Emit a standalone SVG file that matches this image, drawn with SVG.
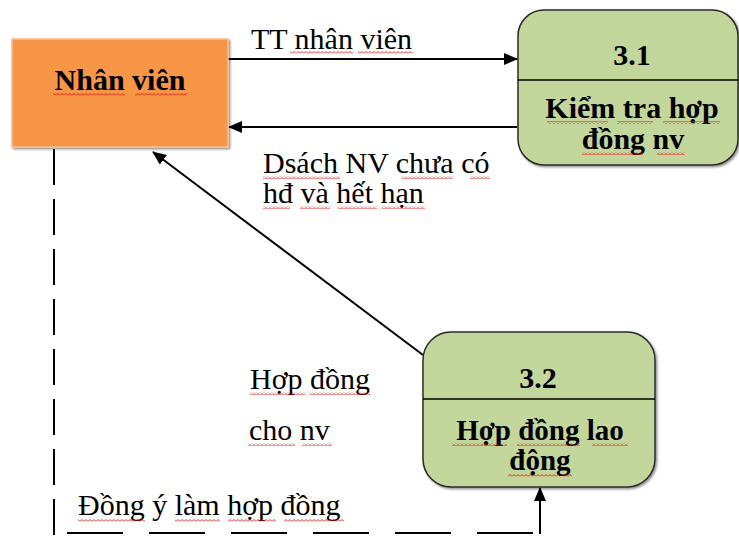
<svg xmlns="http://www.w3.org/2000/svg" width="739" height="536" viewBox="0 0 739 536">
  <style>
    .edge { stroke: #000; stroke-width: 2; fill: none; }
    .proc { fill: #C3D69B; stroke: #2b2b2b; stroke-width: 1.5; }
    .sq { fill: url(#squiggle); }
  </style>
  <defs>
    <marker id="arrow" viewBox="0 0 14 12" refX="13" refY="6" markerWidth="14" markerHeight="12" markerUnits="userSpaceOnUse" orient="auto">
      <path d="M0,0 L14,6 L0,12 Z" fill="#000"/>
    </marker>
    <pattern id="squiggle" width="4" height="3" patternUnits="userSpaceOnUse">
      <path d="M0,2.5 L2,0.5 L4,2.5" fill="none" stroke="#e01010" stroke-width="0.9"/>
    </pattern>
    <filter id="shadow" x="-5%" y="-5%" width="115%" height="115%">
      <feDropShadow dx="1.5" dy="1.5" stdDeviation="0.8" flood-color="#000" flood-opacity="0.45"/>
    </filter>
  </defs>

  <!-- connectors -->
  <g id="connectors">
    <line class="edge" x1="228" y1="59" x2="517" y2="59" marker-end="url(#arrow)"/>
    <line class="edge" x1="517" y1="127" x2="229" y2="127" marker-end="url(#arrow)"/>
    <line class="edge" x1="423" y1="355" x2="153" y2="152" marker-end="url(#arrow)"/>
    <line class="edge" x1="54" y1="149" x2="54" y2="536" stroke-dasharray="36 14"/>
    <line class="edge" x1="67" y1="533" x2="540" y2="533" stroke-dasharray="56 26"/>
    <line class="edge" x1="540" y1="534" x2="540" y2="488" marker-end="url(#arrow)"/>
  </g>

  <!-- external entity -->
  <g id="nhan-vien">
    <rect x="12" y="39" width="216" height="108" fill="#F79646" stroke="#FAC090" stroke-width="1.5" filter="url(#shadow)"/>
    <text x="120" y="90" text-anchor="middle" font-family="Liberation Serif" font-size="30" font-weight="bold" style="font-family: 'Liberation Serif', serif">Nhân viên</text>
    <rect class="sq" x="53" y="93" width="72" height="3"/>
    <rect class="sq" x="135" y="93" width="52" height="3"/>
  </g>

  <!-- process 3.1 -->
  <g id="p31">
    <rect class="proc" x="518" y="10" width="220" height="155" rx="26" filter="url(#shadow)"/>
    <line x1="518" y1="80" x2="738" y2="80" stroke="#000" stroke-width="1.5"/>
    <text x="632" y="65" text-anchor="middle" font-family="Liberation Serif" font-size="30" font-weight="bold" style="font-family: 'Liberation Serif', serif">3.1</text>
    <text x="632" y="118" text-anchor="middle" font-family="Liberation Serif" font-size="30" font-weight="bold" style="font-family: 'Liberation Serif', serif">Kiểm tra hợp</text>
    <text x="633" y="149" text-anchor="middle" font-family="Liberation Serif" font-size="30" font-weight="bold" style="font-family: 'Liberation Serif', serif">đồng nv</text>
    <rect class="sq" x="547" y="121" width="61" height="3"/>
    <rect class="sq" x="617" y="121" width="36" height="3"/>
    <rect class="sq" x="663" y="121" width="57" height="3"/>
    <rect class="sq" x="582" y="152" width="61" height="3"/>
    <rect class="sq" x="657" y="152" width="28" height="3"/>
  </g>

  <!-- process 3.2 -->
  <g id="p32">
    <rect class="proc" x="423" y="332" width="232" height="155" rx="28" filter="url(#shadow)"/>
    <line x1="423" y1="399" x2="655" y2="399" stroke="#000" stroke-width="1.5"/>
    <text x="538" y="388" text-anchor="middle" font-family="Liberation Serif" font-size="30" font-weight="bold" style="font-family: 'Liberation Serif', serif">3.2</text>
    <text x="540" y="440" text-anchor="middle" font-family="Liberation Serif" font-size="29" font-weight="bold" style="font-family: 'Liberation Serif', serif">Hợp đồng lao</text>
    <text x="540" y="470" text-anchor="middle" font-family="Liberation Serif" font-size="29" font-weight="bold" style="font-family: 'Liberation Serif', serif">động</text>
    <rect class="sq" x="452" y="443" width="55" height="3"/>
    <rect class="sq" x="517" y="443" width="63" height="3"/>
    <rect class="sq" x="592" y="443" width="36" height="3"/>
    <rect class="sq" x="508" y="474" width="64" height="3"/>
  </g>

  <!-- flow labels -->
  <g id="flow-labels">
    <text x="251" y="49" font-family="Liberation Serif" font-size="30" style="font-family: 'Liberation Serif', serif">TT nhân viên</text>
    <rect class="sq" x="290" y="51" width="63" height="3"/>
    <rect class="sq" x="358" y="51" width="55" height="3"/>

    <text x="263" y="173" font-family="Liberation Serif" font-size="30" style="font-family: 'Liberation Serif', serif">Dsách NV chưa có</text>
    <text x="263" y="203" font-family="Liberation Serif" font-size="30" style="font-family: 'Liberation Serif', serif">hđ và hết hạn</text>
    <rect class="sq" x="263" y="176" width="77" height="3"/>
    <rect class="sq" x="402" y="176" width="51" height="3"/>
    <rect class="sq" x="470" y="176" width="20" height="3"/>
    <rect class="sq" x="263" y="206" width="27" height="3"/>
    <rect class="sq" x="300" y="206" width="30" height="3"/>
    <rect class="sq" x="338" y="206" width="39" height="3"/>
    <rect class="sq" x="382" y="206" width="43" height="3"/>

    <text x="250" y="389" font-family="Liberation Serif" font-size="30" style="font-family: 'Liberation Serif', serif">Hợp đồng</text>
    <text x="249" y="440" font-family="Liberation Serif" font-size="30" style="font-family: 'Liberation Serif', serif">cho nv</text>
    <rect class="sq" x="250" y="392" width="55" height="3"/>
    <rect class="sq" x="310" y="392" width="60" height="3"/>
    <rect class="sq" x="248" y="443" width="47" height="3"/>
    <rect class="sq" x="302" y="443" width="30" height="3"/>

    <text x="78" y="515" font-family="Liberation Serif" font-size="30" style="font-family: 'Liberation Serif', serif">Đồng ý làm hợp đồng</text>
    <rect class="sq" x="78" y="519" width="67" height="3"/>
    <rect class="sq" x="175" y="519" width="45" height="3"/>
    <rect class="sq" x="228" y="519" width="48" height="3"/>
    <rect class="sq" x="284" y="519" width="60" height="3"/>
  </g>
</svg>
